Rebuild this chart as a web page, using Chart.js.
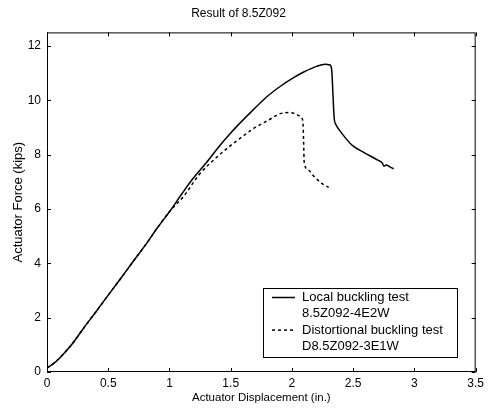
<!DOCTYPE html>
<html>
<head>
<meta charset="utf-8">
<script src="https://cdn.jsdelivr.net/npm/chart.js@4/dist/chart.umd.min.js"></script>
<style>
  html, body { margin: 0; padding: 0; background: #fff; }
  #wrap { width: 488px; height: 410px; }
</style>
</head>
<body>
<div id="wrap"><canvas id="chart" width="488" height="410"></canvas></div>
<script>
// local buckling test 8.5Z092-4E2W
const localX = [0, 0.05, 0.1, 0.2, 0.3, 0.4, 0.5, 0.6, 0.7, 0.8, 0.9, 1.0, 1.1, 1.19, 1.3, 1.41, 1.5, 1.65, 1.8, 1.9, 2.0, 2.1, 2.2, 2.27, 2.31, 2.325, 2.335, 2.345, 2.36, 2.38, 2.44, 2.49, 2.6, 2.7, 2.74, 2.75, 2.77, 2.8, 2.83];
const localY = [0.15, 0.3, 0.5, 1.0, 1.62, 2.22, 2.83, 3.43, 4.05, 4.65, 5.3, 5.9, 6.55, 7.11, 7.7, 8.33, 8.8, 9.5, 10.15, 10.5, 10.8, 11.05, 11.25, 11.33, 11.3, 11.1, 10.2, 9.35, 9.1, 8.95, 8.6, 8.35, 8.05, 7.8, 7.68, 7.58, 7.62, 7.55, 7.48];

// distortional buckling test D8.5Z092-3E1W
const distX = [0, 0.05, 0.1, 0.2, 0.3, 0.4, 0.5, 0.6, 0.7, 0.8, 0.9, 1.0, 1.05, 1.11, 1.24, 1.41, 1.57, 1.7, 1.8, 1.9, 1.97, 2.03, 2.07, 2.09, 2.095, 2.1, 2.13, 2.18, 2.24, 2.3];
const distY = [0.15, 0.3, 0.5, 1.0, 1.62, 2.22, 2.83, 3.43, 4.05, 4.65, 5.3, 5.9, 6.15, 6.43, 7.25, 8.0, 8.58, 9.0, 9.25, 9.5, 9.55, 9.5, 9.4, 9.2, 8.5, 7.72, 7.45, 7.2, 6.95, 6.8];

const seriesNames = [
  ['Local buckling test', '8.5Z092-4E2W'],
  ['Distortional buckling test', 'D8.5Z092-3E1W']
];

const xMin = 0, xMax = 3.5, xStep = 0.5;
const yMin = 0, yMax = 12.5, yStep = 2;

const toPoints = (xs, ys) => xs.map((x, i) => ({ x: x, y: ys[i] }));
const fmt = v => String(Number(v.toFixed(2)));
const FONT = '"Liberation Sans", Arial, sans-serif';

// MATLAB style frame with inward ticks on all four sides
const framePlugin = {
  id: 'frame',
  afterDatasetsDraw(chart) {
    const { ctx, chartArea: a, scales } = chart;
    const tl = 4;
    ctx.save();
    ctx.strokeStyle = '#000';
    ctx.lineWidth = 1;
    ctx.strokeRect(a.left + 0.5, a.top + 0.5, a.right - a.left - 1, a.bottom - a.top - 1);
    ctx.beginPath();
    scales.x.ticks.forEach(t => {
      const px = Math.round(scales.x.getPixelForValue(t.value)) + 0.5;
      ctx.moveTo(px, a.bottom); ctx.lineTo(px, a.bottom - tl);
      ctx.moveTo(px, a.top); ctx.lineTo(px, a.top + tl);
    });
    scales.y.ticks.forEach(t => {
      const py = Math.round(scales.y.getPixelForValue(t.value)) + 0.5;
      ctx.moveTo(a.left, py); ctx.lineTo(a.left + tl, py);
      ctx.moveTo(a.right, py); ctx.lineTo(a.right - tl, py);
    });
    ctx.stroke();
    ctx.restore();
  }
};

// legend box inside the axes, lower right
const legendPlugin = {
  id: 'boxLegend',
  afterDraw(chart) {
    const { ctx } = chart;
    const bx = 263, by = 288, bw = 194, bh = 69;
    ctx.save();
    ctx.fillStyle = '#fff';
    ctx.fillRect(bx, by, bw, bh);
    ctx.strokeStyle = '#000';
    ctx.lineWidth = 1;
    ctx.strokeRect(bx + 0.5, by + 0.5, bw, bh);
    ctx.font = '13px ' + FONT;
    ctx.fillStyle = '#000';
    ctx.textBaseline = 'middle';
    let y = by + 9.5;
    chart.data.datasets.forEach((ds, i) => {
      ctx.beginPath();
      ctx.lineWidth = 1.5;
      ctx.setLineDash(ds.borderDash || []);
      ctx.moveTo(bx + 9, y);
      ctx.lineTo(bx + 32, y);
      ctx.stroke();
      ctx.setLineDash([]);
      seriesNames[i].forEach(line => {
        ctx.fillText(line, bx + 39, y);
        y += 16.3;
      });
    });
    ctx.restore();
  }
};

new Chart(document.getElementById('chart'), {
  type: 'line',
  data: {
    datasets: [
      {
        label: seriesNames[0].join(' '),
        data: toPoints(localX, localY),
        borderColor: '#000',
        borderWidth: 1.5,
        pointRadius: 0,
        cubicInterpolationMode: 'monotone',
        fill: false
      },
      {
        label: seriesNames[1].join(' '),
        data: toPoints(distX, distY),
        borderColor: '#000',
        borderWidth: 1.5,
        borderDash: [3, 3],
        pointRadius: 0,
        cubicInterpolationMode: 'monotone',
        fill: false
      }
    ]
  },
  options: {
    responsive: false,
    animation: false,
    layout: { padding: { left: 0, right: 11, top: 0, bottom: 0 } },
    plugins: {
      legend: { display: false },
      tooltip: { enabled: false },
      title: {
        display: true,
        text: 'Result of 8.5Z092',
        color: '#000',
        font: { family: FONT, size: 12, weight: 'normal' },
        padding: { top: 6, bottom: 12 }
      }
    },
    scales: {
      x: {
        type: 'linear',
        min: xMin, max: xMax,
        grid: { display: false, drawTicks: false },
        border: { display: false },
        ticks: {
          stepSize: xStep,
          includeBounds: false,
          color: '#000',
          padding: 4,
          maxRotation: 0,
          callback: fmt,
          font: { family: FONT, size: 12 }
        },
        title: {
          display: true,
          text: 'Actuator Displacement (in.)',
          color: '#000',
          font: { family: FONT, size: 11.5 },
          padding: { top: 0, bottom: 5 }
        },
        afterFit(scale) { scale.height = 38; }
      },
      y: {
        type: 'linear',
        min: yMin, max: yMax,
        grid: { display: false, drawTicks: false },
        border: { display: false },
        ticks: {
          stepSize: yStep,
          includeBounds: false,
          color: '#000',
          padding: 6,
          callback: fmt,
          font: { family: FONT, size: 12 }
        },
        title: {
          display: true,
          text: 'Actuator Force (kips)',
          color: '#000',
          font: { family: FONT, size: 13 },
          padding: { top: 11, bottom: 0 }
        },
        afterFit(scale) { scale.width = 47; }
      }
    }
  },
  plugins: [framePlugin, legendPlugin]
});
</script>
</body>
</html>
